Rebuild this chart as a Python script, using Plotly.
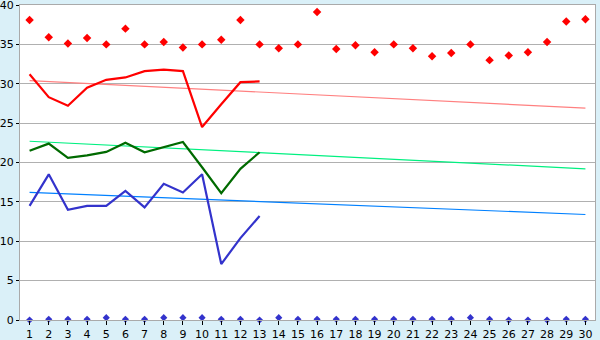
import plotly.graph_objects as go

days = list(range(1, 31))

max_pts = [38.1, 35.9, 35.1, 35.8, 35.0, 37.0, 35.0, 35.3, 34.6, 35.0,
           35.6, 38.1, 35.0, 34.5, 35.0, 39.1, 34.4, 34.9, 34.0, 35.0,
           34.5, 33.5, 33.9, 35.0, 33.0, 33.6, 34.0, 35.3, 37.9, 38.2]

red_days = list(range(1, 14))
red_line = [31.2, 28.3, 27.2, 29.5, 30.5, 30.8, 31.6, 31.8, 31.6, 24.5, 27.4, 30.2, 30.3]
green_line = [21.5, 22.4, 20.6, 20.9, 21.35, 22.5, 21.3, 22.0, 22.6, 19.4, 16.1, 19.2, 21.3]
blue_line = [14.5, 18.5, 14.0, 14.5, 14.5, 16.4, 14.3, 17.3, 16.2, 18.5, 7.1, 10.4, 13.2]

bottom_pts = [0.0, 0.1, 0.1, 0.1, 0.3, 0.1, 0.1, 0.3, 0.3, 0.3,
              0.1, 0.1, 0.0, 0.3, 0.1, 0.1, 0.1, 0.1, 0.1, 0.1,
              0.1, 0.1, 0.1, 0.3, 0.1, 0.0, 0.0, 0.0, 0.1, 0.1]

trend_days = [1, 30]
red_trend = [30.4, 26.9]
green_trend = [22.7, 19.2]
blue_trend = [16.2, 13.4]

fig = go.Figure()

fig.add_trace(go.Scatter(x=trend_days, y=red_trend, mode="lines",
                         line=dict(color="#ff8080", width=1.2)))
fig.add_trace(go.Scatter(x=trend_days, y=green_trend, mode="lines",
                         line=dict(color="#00f080", width=1.2)))
fig.add_trace(go.Scatter(x=trend_days, y=blue_trend, mode="lines",
                         line=dict(color="#0080ff", width=1.2)))

fig.add_trace(go.Scatter(x=red_days, y=red_line, mode="lines",
                         line=dict(color="#ff0000", width=2.2)))
fig.add_trace(go.Scatter(x=red_days, y=green_line, mode="lines",
                         line=dict(color="#006a00", width=2.2)))
fig.add_trace(go.Scatter(x=red_days, y=blue_line, mode="lines",
                         line=dict(color="#3333cc", width=2.2)))

fig.add_trace(go.Scatter(x=days, y=max_pts, mode="markers",
                         marker=dict(symbol="diamond", size=6.5, color="#ff0000")))
fig.add_trace(go.Scatter(x=days, y=bottom_pts, mode="markers", cliponaxis=False,
                         marker=dict(symbol="diamond", size=5.5, color="#3333cc")))

fig.update_layout(
    width=600, height=340,
    margin=dict(l=20, r=5, t=5, b=20, autoexpand=False),
    paper_bgcolor="#daf0f8",
    plot_bgcolor="#ffffff",
    showlegend=False,
    hovermode=False,
    font=dict(family="DejaVu Sans", size=11, color="#000000"),
)
fig.update_xaxes(
    range=[0.5, 30.5], tickmode="array", tickvals=days,
    ticktext=[str(d) for d in days],
    showgrid=False, zeroline=False, automargin=False,
    showline=True, linecolor="#aaaaaa", linewidth=1, mirror=True,
    ticks="outside", ticklen=4, tickcolor="#000000", tickwidth=1,
    ticklabeloverflow="allow", tickfont=dict(size=11),
)
fig.update_yaxes(
    range=[0, 40], dtick=5, tick0=0, automargin=False,
    showgrid=True, gridcolor="#b0b0b0", gridwidth=1,
    zeroline=False,
    showline=True, linecolor="#aaaaaa", linewidth=1, mirror=True,
    ticks="outside", ticklen=3, tickcolor="#000000", tickwidth=1,
    ticklabeloverflow="allow",
)

fig.write_html("out.html")
